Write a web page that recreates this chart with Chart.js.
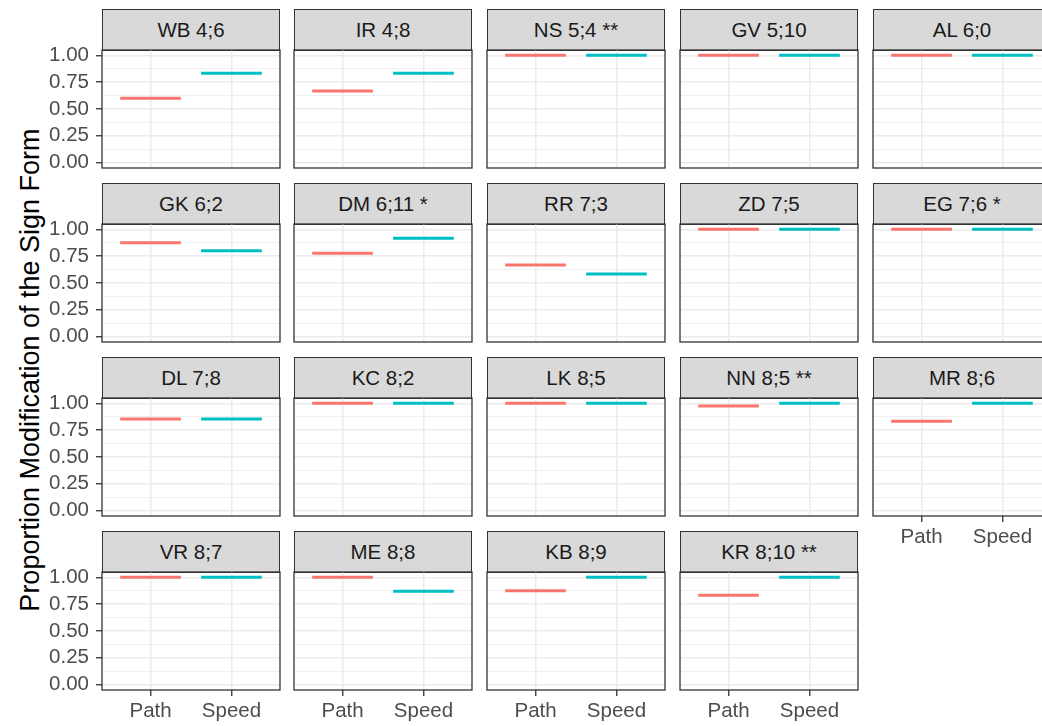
<!DOCTYPE html>
<html>
<head>
<meta charset="utf-8">
<script src="https://cdn.jsdelivr.net/npm/chart.js@4.4.1/dist/chart.umd.min.js"></script>
<style>
  html, body { margin: 0; padding: 0; background: #ffffff; }
  body { width: 1042px; height: 726px; overflow: hidden; position: relative; }
  .strip {
    position: absolute; box-sizing: border-box;
    background: #D9D9D9; border: 1px solid #333333;
    color: #1A1A1A; text-align: center;
    font-family: "Liberation Sans", Arial, sans-serif; font-size: 20.5px;
    white-space: nowrap;
  }
  .panel { position: absolute; }
  #ytitle {
    position: absolute; width: 640px; height: 30px; line-height: 30px;
    text-align: center; color: #000000;
    font-family: "Liberation Sans", Arial, sans-serif; font-size: 27px;
    transform: rotate(-90deg); white-space: nowrap;
  }
</style>
</head>
<body>
<div id="ytitle">Proportion Modification of the Sign Form</div>
<script>
// Facet labels: child initials, age (years;months) and significance marks
const panelLabels = [
  'WB 4;6', 'IR 4;8', 'NS 5;4 **', 'GV 5;10', 'AL 6;0',
  'GK 6;2', 'DM 6;11 *', 'RR 7;3', 'ZD 7;5', 'EG 7;6 *',
  'DL 7;8', 'KC 8;2', 'LK 8;5', 'NN 8;5 **', 'MR 8;6',
  'VR 8;7', 'ME 8;8', 'KB 8;9', 'KR 8;10 **'
];
const categories = ['Path', 'Speed'];
const pathValues = [
  0.600, 0.667, 1.000, 1.000, 1.000,
  0.875, 0.778, 0.667, 1.000, 1.000,
  0.855, 1.000, 1.000, 0.975, 0.833,
  1.000, 1.000, 0.875, 0.833
];
const speedValues = [
  0.833, 0.833, 1.000, 1.000, 1.000,
  0.800, 0.917, 0.583, 1.000, 1.000,
  0.855, 1.000, 1.000, 1.000, 1.000,
  1.000, 0.870, 1.000, 1.000
];
const yTickValues = [0, 0.25, 0.5, 0.75, 1];
const yMinorValues = [0.125, 0.375, 0.625, 0.875];

// Styling and layout
const FONT = '"Liberation Sans", Arial, sans-serif';
const seriesColors = ['#F8766D', '#00BFC4'];
const N_COLS = 5;
const PANEL_W = 178, PANEL_H = 118, STRIP_H = 41, PAD = 24;
const SEG_HALF = 0.375;
const colLeft = c => Math.round(101.7 + c * 192.7);
const stripTop = r => 9 + r * 174;

const yTitle = document.getElementById('ytitle');
yTitle.style.left = (30 - 320) + 'px';
yTitle.style.top = (370 - 15) + 'px';

const panelBorder = {
  id: 'panelBorder',
  afterDraw(chart) {
    const a = chart.chartArea, ctx = chart.ctx;
    ctx.save();
    ctx.strokeStyle = '#333333';
    ctx.lineWidth = 1.3;
    ctx.strokeRect(a.left, a.top, a.right - a.left, a.bottom - a.top);
    ctx.restore();
  }
};

const isMajor = v => yTickValues.some(t => Math.abs(t - v) < 1e-9);

panelLabels.forEach((label, i) => {
  const r = Math.floor(i / N_COLS), c = i % N_COLS;
  const showY = c === 0;
  const showX = i + N_COLS >= panelLabels.length;
  const axW = showY ? 64 : 0;
  const axH = showX ? 40 : 0;
  const left = colLeft(c), top = stripTop(r);

  const strip = document.createElement('div');
  strip.className = 'strip';
  strip.textContent = label;
  Object.assign(strip.style, {
    left: left + 'px', top: top + 'px',
    width: PANEL_W + 'px', height: (STRIP_H + 1) + 'px',
    lineHeight: (STRIP_H - 1) + 'px'
  });
  document.body.appendChild(strip);

  const canvas = document.createElement('canvas');
  canvas.className = 'panel';
  canvas.width = axW + PANEL_W + 2 * PAD;
  canvas.height = PANEL_H + axH + 2 * PAD;
  Object.assign(canvas.style, {
    left: (left - axW - PAD) + 'px',
    top: (top + STRIP_H - PAD) + 'px',
    width: canvas.width + 'px', height: canvas.height + 'px'
  });
  document.body.appendChild(canvas);

  const values = [pathValues[i], speedValues[i]];
  const datasets = categories.map((cat, k) => ({
    label: cat,
    data: [
      { x: k + 1 - SEG_HALF, y: values[k] },
      { x: k + 1 + SEG_HALF, y: values[k] }
    ],
    borderColor: seriesColors[k],
    borderWidth: 3,
    borderCapStyle: 'butt',
    pointRadius: 0,
    tension: 0,
    clip: false
  }));

  new Chart(canvas, {
    type: 'line',
    data: { datasets },
    options: {
      responsive: false,
      animation: false,
      devicePixelRatio: 1,
      layout: { padding: PAD },
      plugins: { legend: { display: false }, tooltip: { enabled: false } },
      scales: {
        x: {
          type: 'linear', position: 'bottom', min: 0.4, max: 2.6,
          afterBuildTicks: s => { s.ticks = categories.map((_, k) => ({ value: k + 1 })); },
          afterFit: s => { s.height = axH; },
          border: { display: false },
          grid: {
            color: '#EBEBEB', lineWidth: 1.5,
            drawTicks: showX, tickLength: 6, tickColor: '#333333', tickWidth: 1.3
          },
          ticks: {
            display: showX, autoSkip: false, maxRotation: 0, minRotation: 0,
            padding: 3, color: '#4D4D4D', font: { family: FONT, size: 20.5 },
            callback: v => categories[Math.round(v) - 1]
          }
        },
        y: {
          type: 'linear', position: 'left', min: -0.05, max: 1.05,
          afterBuildTicks: s => {
            s.ticks = yTickValues.concat(yMinorValues)
              .sort((a, b) => a - b)
              .map(v => ({ value: v }));
          },
          afterFit: s => { s.width = axW; },
          border: { display: false },
          grid: {
            color: '#EBEBEB',
            lineWidth: ctx => (ctx.tick && isMajor(ctx.tick.value)) ? 1.5 : 0.8,
            drawTicks: showY, tickLength: 6, tickWidth: 1.3,
            tickColor: ctx => (ctx.tick && isMajor(ctx.tick.value)) ? '#333333' : 'rgba(0,0,0,0)'
          },
          ticks: {
            display: showY, autoSkip: false, padding: 7,
            color: '#4D4D4D', font: { family: FONT, size: 20.5 },
            callback: v => isMajor(v) ? v.toFixed(2) : ''
          }
        }
      }
    },
    plugins: [panelBorder]
  });
});
</script>
</body>
</html>
